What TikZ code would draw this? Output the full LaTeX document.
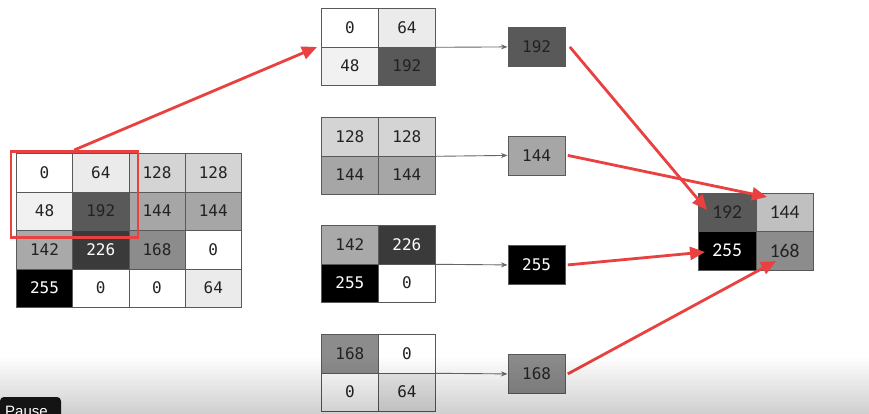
\documentclass[tikz,border=0pt]{standalone}
\usepackage{fontspec}
\newfontfamily\monof{DejaVu Sans Mono}
\newfontfamily\calib{Carlito}
\newfontfamily\uifont{Liberation Sans}
\usetikzlibrary{arrows.meta}
\definecolor{redA}{HTML}{E8413F}
\definecolor{cA}{HTML}{FFFFFF}
\definecolor{cB}{HTML}{F1F1F1}
\definecolor{cC}{HTML}{EBEBEB}
\definecolor{cD}{HTML}{D4D4D4}
\definecolor{cE}{HTML}{A6A6A6}
\definecolor{cF}{HTML}{A9A9A9}
\definecolor{cG}{HTML}{8C8C8C}
\definecolor{cH}{HTML}{595959}
\definecolor{cI}{HTML}{3A3A3A}
\definecolor{cJ}{HTML}{000000}
\definecolor{cK}{HTML}{C0C0C0}
\definecolor{txt}{HTML}{222222}
\begin{document}
\begin{tikzpicture}[x=1pt,y=-1pt,
  cell/.style={draw=black!65, line width=0.8pt, minimum width=56.25pt, minimum height=38.5pt,
    inner sep=0pt, anchor=north west, text=txt, font=\monof\fontsize{16}{16}\selectfont},
  mcell/.style={cell, minimum width=57pt},
  rcell/.style={cell, minimum width=57.5pt, font=\calib\fontsize{19.5}{19.5}\selectfont},
  obox/.style={cell, minimum width=57.5pt, minimum height=39pt},
  wt/.style={text=white},
  redarrow/.style={draw=redA, line width=2.8pt, -{Triangle[length=15pt,width=13pt]}},
  grayarrow/.style={draw=black!60, line width=0.9pt, -{Stealth[length=6.5pt,width=5pt]}}]
\useasboundingbox (0,0) rectangle (869,413);
\clip (0,0) rectangle (869,413);
\fill[white] (0,0) rectangle (869,413);

% left 4x4 grid
\node[cell,fill=cA] (a11) at (16,153) {0};
\node[cell,fill=cC] (a12) at (72.25,153) {64};
\node[cell,fill=cD] (a13) at (128.5,153) {128};
\node[cell,fill=cD] (a14) at (184.75,153) {128};
\node[cell,fill=cB] (a21) at (16,191.5) {48};
\node[cell,fill=cH] (a22) at (72.25,191.5) {192};
\node[cell,fill=cE] (a23) at (128.5,191.5) {144};
\node[cell,fill=cE] (a24) at (184.75,191.5) {144};
\node[cell,fill=cF] (a31) at (16,230) {142};
\node[cell,fill=cI,wt] (a32) at (72.25,230) {226};
\node[cell,fill=cG] (a33) at (128.5,230) {168};
\node[cell,fill=cA] (a34) at (184.75,230) {0};
\node[cell,fill=cJ,wt] (a41) at (16,268.5) {255};
\node[cell,fill=cA] (a42) at (72.25,268.5) {0};
\node[cell,fill=cA] (a43) at (128.5,268.5) {0};
\node[cell,fill=cC] (a44) at (184.75,268.5) {64};
\node[draw=redA, line width=2.5pt, minimum width=127pt, minimum height=86pt,
  inner sep=0pt, anchor=north west] (redbox) at (9.5,150) {};

% middle 2x2 grids
\node[mcell,fill=cA] (m1a) at (321,8) {0};
\node[mcell,fill=cC] (m1b) at (378,8) {64};
\node[mcell,fill=cB] (m1c) at (321,46.5) {48};
\node[mcell,fill=cH] (m1d) at (378,46.5) {192};

\node[mcell,fill=cD] (m2a) at (321,117) {128};
\node[mcell,fill=cD] (m2b) at (378,117) {128};
\node[mcell,fill=cE] (m2c) at (321,155.5) {144};
\node[mcell,fill=cE] (m2d) at (378,155.5) {144};

\node[mcell,fill=cF] (m3a) at (321,225) {142};
\node[mcell,fill=cI,wt] (m3b) at (378,225) {226};
\node[mcell,fill=cJ,wt] (m3c) at (321,263.5) {255};
\node[mcell,fill=cA] (m3d) at (378,263.5) {0};

\node[mcell,fill=cG] (m4a) at (321,334) {168};
\node[mcell,fill=cA] (m4b) at (378,334) {0};
\node[mcell,fill=cA] (m4c) at (321,372.5) {0};
\node[mcell,fill=cC] (m4d) at (378,372.5) {64};

% output boxes
\node[obox,fill=cH] (o1) at (507.5,27) {192};
\node[obox,fill=cE] (o2) at (507.5,135.5) {144};
\node[obox,fill=cJ,wt] (o3) at (507.5,245) {255};
\node[obox,fill=cG] (o4) at (507.5,354) {168};

% right grid
\node[rcell,fill=cH] (r11) at (698,192.5) {192};
\node[rcell,fill=cK] (r12) at (755.5,192.5) {144};
\node[rcell,fill=cJ,wt] (r21) at (698,231) {255};
\node[rcell,fill=cG] (r22) at (755.5,231) {168};

% thin gray arrows
\draw[grayarrow] (m1b.south east) -- (o1.west);
\draw[grayarrow] (m2b.south east) -- (o2.west);
\draw[grayarrow] (m3b.south east) -- (o3.west);
\draw[grayarrow] (m4b.south east) -- (o4.west);

% red arrows
\coordinate (t0) at (317,47);
\coordinate (t1) at (707,210);
\coordinate (t2) at (767,197);
\coordinate (t3) at (705,252);
\coordinate (t4) at (776,261);
\draw[redarrow] (redbox.north) -- (t0);
\draw[redarrow] ([xshift=4pt]o1.east) -- (t1);
\draw[redarrow] ([xshift=2pt]o2.east) -- (t2);
\draw[redarrow] ([xshift=2pt]o3.east) -- (t3);
\draw[redarrow] ([xshift=2pt]o4.east) -- (t4);

% bottom player overlay
\foreach \i in {0,...,29} {
  \fill[black, fill opacity={0.0065*\i}] (0,{355+2*\i}) rectangle (869,{357.2+2*\i});
}
\fill[black!92, rounded corners=4pt] (0,397) rectangle (61,425);
\node[anchor=base west, text=white, inner sep=0pt, font=\uifont\fontsize{15}{15}\selectfont]
  (pause) at (5,416) {Pause};
\end{tikzpicture}
\end{document}
